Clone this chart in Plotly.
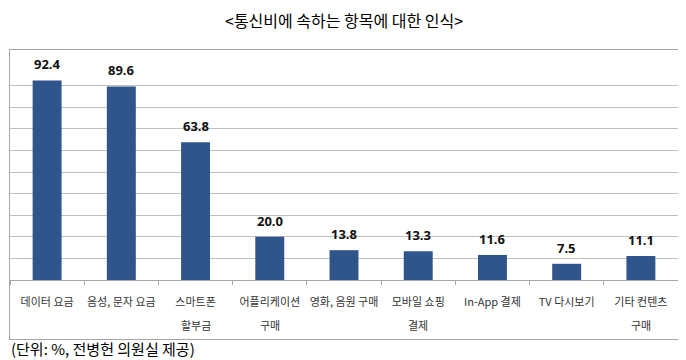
import plotly.graph_objects as go

categories = ["데이터 요금", "음성, 문자 요금", "스마트폰 할부금", "어플리케이션 구매", "영화, 음원 구매",
              "모바일 쇼핑 결제", "In-App 결제", "TV 다시보기", "기타 컨텐츠 구매"]
label_line1 = ["데이터 요금", "음성, 문자 요금", "스마트폰", "어플리케이션", "영화, 음원 구매",
               "모바일 쇼핑", "In-App 결제", "TV 다시보기", "기타 컨텐츠"]
label_line2 = ["", "", "할부금", "구매", "", "결제", "", "", "구매"]
values = [92.4, 89.6, 63.8, 20.0, 13.8, 13.3, 11.6, 7.5, 11.1]
value_text = ["92.4", "89.6", "63.8", "20.0", "13.8", "13.3", "11.6", "7.5", "11.1"]

title_text = "<통신비에 속하는 항목에 대한 인식>"
footer_text = "(단위: %, 전병헌 의원실 제공)"

BAR = "#30558A"
KFONT = "Noto Sans CJK KR"
OFF = 8           # page body margin
BOX_TOP, BOX_BOT = 50, 339   # page px of the chart frame
PAPER_H = BOX_BOT - BOX_TOP

def py(p):
    # page pixel y -> paper coordinate (paper = chart frame)
    return (BOX_BOT - p) / PAPER_H

fig = go.Figure()
fig.add_trace(go.Bar(
    x=categories, y=values, marker=dict(color=BAR, line=dict(width=0)),
    hoverinfo="skip", xaxis="x", yaxis="y",
))
# invisible trace that carries the frame axes
fig.add_trace(go.Scatter(x=[0, 1], y=[0, 1], xaxis="x2", yaxis="y2", mode="markers",
                         marker=dict(opacity=0), hoverinfo="skip"))

for c, v, t in zip(categories, values, value_text):
    fig.add_annotation(x=c, y=v, xref="x", yref="y", text="<b>%s</b>" % t,
                       showarrow=False, yanchor="bottom", yshift=5,
                       font=dict(family="Noto Sans", size=13, color="#111111"))

for c, l2 in zip(categories, label_line2):
    if l2:
        fig.add_annotation(x=c, y=py(325), xref="x", yref="paper", text=l2, showarrow=False,
                           yanchor="middle",
                           font=dict(family=KFONT, size=11, color="#333333"))

fig.add_annotation(x=0.5, y=py(20), xref="paper", yref="paper", text=title_text,
                   showarrow=False, xanchor="center", yanchor="middle",
                   font=dict(family=KFONT, size=16, color="#000000"))
fig.add_annotation(x=-1 / 669, y=py(348), xref="paper", yref="paper", text=footer_text,
                   showarrow=False, xanchor="left", yanchor="middle",
                   font=dict(family=KFONT, size=15, color="#000000"))

frame_axis = dict(domain=[0, 1], range=[0, 1], showline=True, mirror=True,
                  linecolor="#A6A6A6", linewidth=1, showgrid=False, zeroline=False,
                  showticklabels=False, ticks="", fixedrange=True)

fig.update_layout(
    width=686 - OFF, height=360 - OFF,
    margin=dict(l=2, r=8, t=BOX_TOP - OFF, b=(360 - OFF) - (BOX_BOT - OFF), autoexpand=False),
    paper_bgcolor="white", plot_bgcolor="rgba(0,0,0,0)",
    showlegend=False, bargap=0.61,
    font=dict(family=KFONT),
    xaxis=dict(
        domain=[0, 1], anchor="y",
        tickmode="array", tickvals=categories, ticktext=label_line1, tickangle=0,
        tickson="boundaries", ticks="outside", ticklen=4, tickcolor="#A6A6A6",
        showline=True, linecolor="#A6A6A6", linewidth=1,
        tickfont=dict(family=KFONT, size=11, color="#333333"),
        ticklabelstandoff=12, showgrid=False,
    ),
    yaxis=dict(
        domain=[py(280), py(64)], anchor="x",
        range=[0, 100], dtick=10, showticklabels=False, ticks="",
        showgrid=True, gridcolor="#BFBFBF", gridwidth=1, zeroline=False,
        showline=False,
    ),
    xaxis2=dict(frame_axis, anchor="y2"),
    yaxis2=dict(frame_axis, anchor="x2"),
)

fig.write_html("out.html")
